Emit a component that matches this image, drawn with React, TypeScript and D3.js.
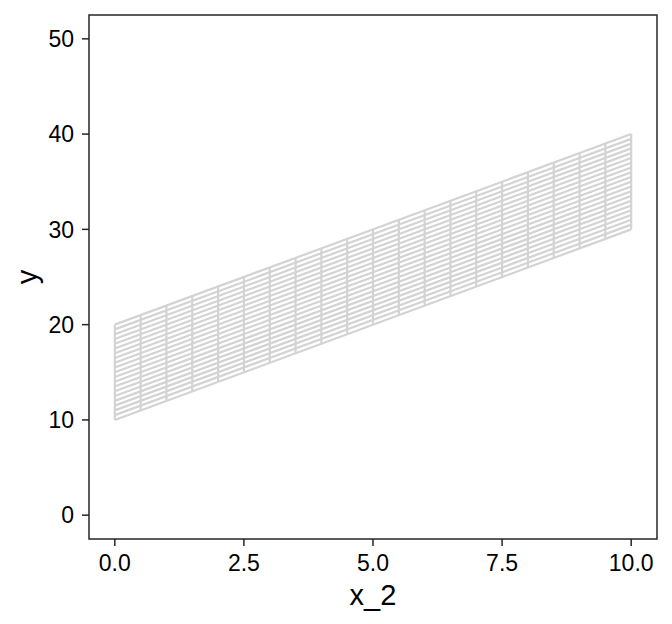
import React from "react";
import * as d3 from "d3";

// x_2 positions of the vertical grid segments
const x2Values = [0, 0.5, 1, 1.5, 2, 2.5, 3, 3.5, 4, 4.5, 5, 5.5, 6, 6.5, 7, 7.5, 8, 8.5, 9, 9.5, 10];
// lower / upper y of each vertical segment
const segLow = [10, 11, 12, 13, 14, 15, 16, 17, 18, 19, 20, 21, 22, 23, 24, 25, 26, 27, 28, 29, 30];
const segHigh = [20, 21, 22, 23, 24, 25, 26, 27, 28, 29, 30, 31, 32, 33, 34, 35, 36, 37, 38, 39, 40];
// start (x_2 = 0) and end (x_2 = 10) y of each sloped line
const lineStart = [10, 10.5, 11, 11.5, 12, 12.5, 13, 13.5, 14, 14.5, 15, 15.5, 16, 16.5, 17, 17.5, 18, 18.5, 19, 19.5, 20];
const lineEnd = [30, 30.5, 31, 31.5, 32, 32.5, 33, 33.5, 34, 34.5, 35, 35.5, 36, 36.5, 37, 37.5, 38, 38.5, 39, 39.5, 40];

const xTicks = [0, 2.5, 5, 7.5, 10];
const xTickLabels = ["0.0", "2.5", "5.0", "7.5", "10.0"];
const yTicks = [0, 10, 20, 30, 40, 50];
const yTickLabels = ["0", "10", "20", "30", "40", "50"];

export default function App() {
  const W = 672, H = 624;
  const L = 89, R = 657, T = 15, B = 539;
  const x = d3.scaleLinear().domain([-0.5, 10.5]).range([L, R]);
  const y = d3.scaleLinear().domain([-2.5, 52.5]).range([B, T]);
  const line = d3.line<[number, number]>().x(d => x(d[0])).y(d => y(d[1]));
  const font = "Liberation Sans, Arial, Helvetica, sans-serif";
  const grey = "#d3d3d3";
  const axis = "#262626";

  return (
    <svg width={W} height={H} style={{ position: "absolute", left: 0, top: 0, background: "#fff" }}>
      <rect x={0} y={0} width={W} height={H} fill="#fff" />
      <g>
        {lineStart.map((s, i) => (
          <path key={"h" + i}
            d={line([[x2Values[0], s], [x2Values[x2Values.length - 1], lineEnd[i]]]) || ""}
            stroke={grey} strokeWidth={2.2} fill="none" />
        ))}
        {x2Values.map((v, i) => (
          <path key={"v" + i}
            d={line([[v, segLow[i]], [v, segHigh[i]]]) || ""}
            stroke={grey} strokeWidth={2.2} fill="none" />
        ))}
      </g>
      <rect x={L} y={T} width={R - L} height={B - T} fill="none" stroke={axis} strokeWidth={1.5} />
      {xTicks.map((t, i) => (
        <g key={"xt" + i}>
          <line x1={x(t)} x2={x(t)} y1={B} y2={B + 7} stroke={axis} strokeWidth={1.5} />
          <text x={x(t)} y={571} textAnchor="middle" fontFamily={font} fontSize={23} fill="#000">
            {xTickLabels[i]}
          </text>
        </g>
      ))}
      {yTicks.map((t, i) => (
        <g key={"yt" + i}>
          <line x1={L - 7} x2={L} y1={y(t)} y2={y(t)} stroke={axis} strokeWidth={1.5} />
          <text x={74} y={y(t) + 8.2} textAnchor="end" fontFamily={font} fontSize={23} fill="#000">
            {yTickLabels[i]}
          </text>
        </g>
      ))}
      <text x={(L + R) / 2} y={605} textAnchor="middle" fontFamily={font} fontSize={29} fill="#000">x_2</text>
      <text transform={`translate(37,${(T + B) / 2}) rotate(-90)`} textAnchor="middle" fontFamily={font} fontSize={29} fill="#000">y</text>
    </svg>
  );
}
